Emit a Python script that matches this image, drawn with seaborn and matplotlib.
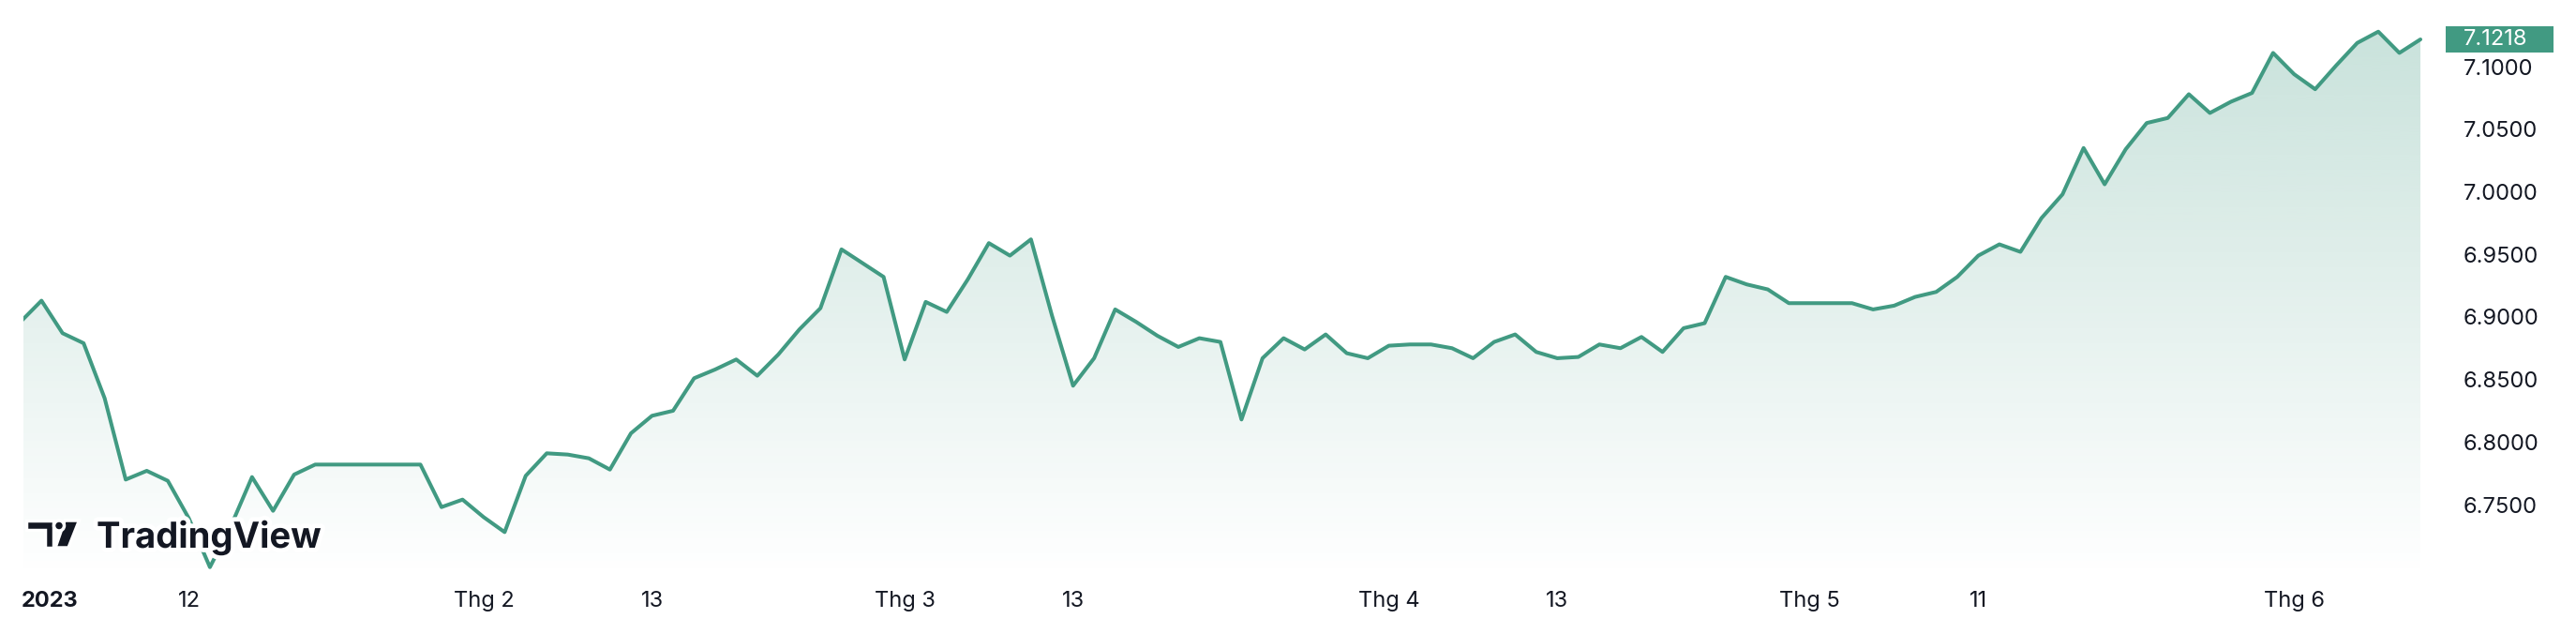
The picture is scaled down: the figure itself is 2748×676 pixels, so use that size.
import numpy as np
import pandas as pd
import matplotlib
matplotlib.use('Agg')
import matplotlib.pyplot as plt
import matplotlib.patheffects as pe
from matplotlib.patches import Rectangle, Polygon, Ellipse
from matplotlib.transforms import blended_transform_factory
from matplotlib.colors import to_rgb
import seaborn as sns

# daily closes, 30 Dec 2022 -> 9 Jun 2023 (one value per trading bar)
closes = [
    6.896, 6.913, 6.887, 6.879, 6.835, 6.770, 6.777, 6.769, 6.739, 6.700,
    6.733, 6.772, 6.745, 6.774, 6.782, 6.782, 6.782, 6.782, 6.782, 6.782,
    6.748, 6.754, 6.740, 6.728, 6.773, 6.791, 6.790, 6.787, 6.778, 6.807,
    6.821, 6.825, 6.851, 6.858, 6.866, 6.853, 6.870, 6.890, 6.907, 6.954,
    6.943, 6.932, 6.866, 6.912, 6.904, 6.930, 6.959, 6.949, 6.962, 6.901,
    6.845, 6.867, 6.906, 6.896, 6.885, 6.876, 6.883, 6.880, 6.818, 6.867,
    6.883, 6.874, 6.886, 6.871, 6.867, 6.877, 6.878, 6.878, 6.875, 6.867,
    6.880, 6.886, 6.872, 6.867, 6.868, 6.878, 6.875, 6.884, 6.872, 6.891,
    6.895, 6.932, 6.926, 6.922, 6.911, 6.911, 6.911, 6.911, 6.906, 6.909,
    6.916, 6.920, 6.932, 6.949, 6.958, 6.952, 6.979, 6.998, 7.035, 7.006,
    7.034, 7.055, 7.059, 7.078, 7.063, 7.072, 7.079, 7.111, 7.094, 7.082,
    7.101, 7.119, 7.128, 7.111, 7.1218,
]
last_price = 7.1218

# time axis labels (bar index -> label)
tick_bars = [1.4, 8, 22, 30, 42, 50, 65, 73, 85, 93, 108]
tick_labels = ['2023', '12', 'Thg 2', '13', 'Thg 3', '13', 'Thg 4', '13', 'Thg 5', '11', 'Thg 6']

price_ticks = [6.75, 6.80, 6.85, 6.90, 6.95, 7.00, 7.05, 7.10]

df = pd.DataFrame({'bar': np.arange(len(closes)), 'close': closes})

green = '#419a82'
text_col = '#131722'

sns.set_style('white')
plt.rcParams['font.family'] = ['Inter', 'DejaVu Sans']

W, H = 2748, 676
fig = plt.figure(figsize=(W / 100, H / 100), dpi=100)
ax = fig.add_axes([24.5 / W, 61 / H, (2600 - 24.5) / W, 615 / H])

ymin, ymax = 6.6923, 7.1533
xmin, xmax = 0.12, 114.8

# gradient area under the line
poly = ax.fill_between(df['bar'], df['close'], ymin, color='none', lw=0)
rgba = np.zeros((256, 1, 4))
rgba[..., :3] = to_rgb(green)
rgba[..., 3] = np.linspace(0.30, 0.0, 256).reshape(-1, 1)
im = ax.imshow(rgba, extent=[xmin, xmax, ymin, ymax], aspect='auto',
               origin='upper', zorder=1, interpolation='bilinear')
im.set_clip_path(poly.get_paths()[0], transform=ax.transData)

sns.lineplot(data=df, x='bar', y='close', ax=ax, color=green, linewidth=2.9, zorder=3)

ax.set_xlim(xmin, xmax)
ax.set_ylim(ymin, ymax)
ax.set_xlabel('')
ax.set_ylabel('')
for s in ax.spines.values():
    s.set_visible(False)

ax.set_xticks(tick_bars)
ax.set_xticklabels(tick_labels)
ax.get_xticklabels()[0].set_fontweight('bold')
ax.tick_params(axis='x', length=0, pad=11, labelsize=17, labelcolor=text_col)

ax.yaxis.tick_right()
ax.set_yticks(price_ticks)
ax.set_yticklabels([f'{v:.4f}' for v in price_ticks])
ax.tick_params(axis='y', length=0, pad=20, labelsize=17, labelcolor=text_col)

# last price badge on the price scale
tr = blended_transform_factory(ax.transAxes, ax.transData)
ax.add_patch(Rectangle((1.0034, last_price - 0.0103), 0.0447, 0.0206, transform=tr,
                       facecolor=green, edgecolor='none', clip_on=False, zorder=5))
ax.text(1.0109, last_price, f'{last_price:.4f}', transform=tr, color='white',
        fontsize=17, va='center', ha='left', zorder=6, clip_on=False)

# TradingView watermark
def fp(x, y):
    return (x / W, 1 - y / H)

halo = [pe.withStroke(linewidth=7, foreground='white')]
logo_style = dict(transform=fig.transFigure, facecolor=text_col, edgecolor='white',
                  linewidth=2.5, zorder=10)
fig.add_artist(Polygon([fp(28, 555), fp(57, 555), fp(57, 584), fp(48, 584),
                        fp(48, 565), fp(28, 565)], closed=True, **logo_style))
fig.add_artist(Polygon([fp(69, 555), fp(84.5, 555), fp(73, 584), fp(59, 584)],
                       closed=True, **logo_style))
fig.add_artist(Ellipse(fp(63, 560.5), 11 / W, 11 / H, **logo_style))
fig.text(103 / W, 1 - 584 / H, 'TradingView', fontsize=27.5, fontweight='bold',
         color=text_col, va='baseline', ha='left', path_effects=halo, zorder=10)

fig.savefig('out.png', dpi=100, facecolor='white')
